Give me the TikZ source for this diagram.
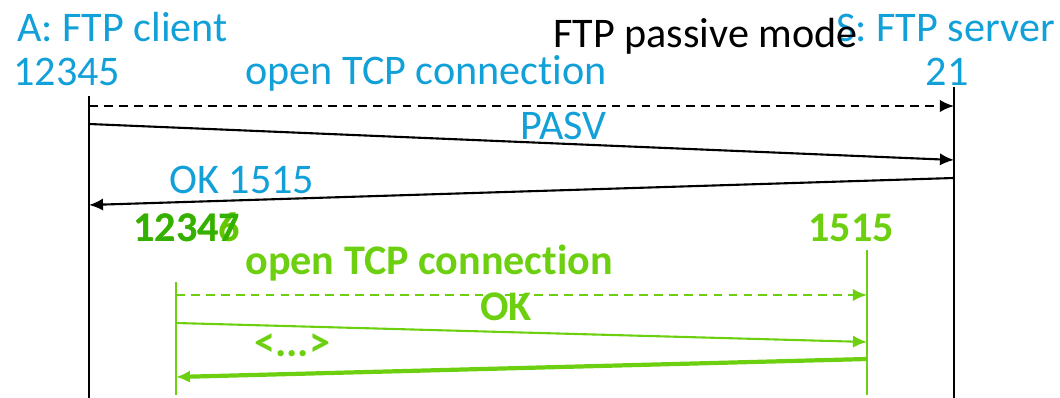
\documentclass[tikz,border=0pt]{standalone}
\usepackage{fontspec}
\setmainfont[Ligatures={NoCommon}]{Carlito}
\usetikzlibrary{arrows.meta}
\definecolor{ftpblue}{RGB}{18,160,216}
\definecolor{ftpgreen}{RGB}{108,208,16}
\definecolor{ftplime}{RGB}{100,200,0}
\definecolor{ftpdark}{RGB}{52,176,0}

\begin{document}
\begin{tikzpicture}[x=0.02cm, y=-0.02cm,
    lbl/.style={inner sep=0, font=\fontsize{24}{28}\selectfont},
    blbl/.style={lbl, text=ftpblue},
    glbl/.style={lbl, text=ftpgreen, font=\fontsize{24}{28}\selectfont\bfseries},
    life/.style={line width=1.1pt},
    glife/.style={line width=1.1pt, ftpgreen},
    msg/.style={line width=1.2pt, -{Latex[length=8pt,width=7pt]}},
    dmsg/.style={msg, dash pattern=on 5pt off 3.5pt},
    gmsg/.style={msg, ftpgreen},
    dgmsg/.style={dmsg, ftpgreen},
    tgmsg/.style={gmsg, line width=2.4pt}]
    \useasboundingbox (0,0) rectangle (1060,398);

    % lifelines
    \coordinate (Atop) at (89,96);   \coordinate (Abot) at (89,398);
    \coordinate (Stop) at (954,87);  \coordinate (Sbot) at (954,398);
    \coordinate (gAtop) at (176,282); \coordinate (gAbot) at (176,395);
    \coordinate (gStop) at (867,250); \coordinate (gSbot) at (867,395);
    \draw[life] (Atop) -- (Abot);
    \draw[life] (Stop) -- (Sbot);
    \draw[glife] (gAtop) -- (gAbot);
    \draw[glife] (gStop) -- (gSbot);

    % message ends
    \coordinate (a1) at (89,106);  \coordinate (s1) at (954,106);
    \coordinate (a2) at (89,124);  \coordinate (s2) at (954,160);
    \coordinate (s3) at (954,178); \coordinate (a3) at (89,205);
    \coordinate (g1) at (176,295); \coordinate (h1) at (867,295);
    \coordinate (g2) at (176,323); \coordinate (h2) at (867,342);
    \coordinate (h3) at (867,359); \coordinate (g3) at (176,377);

    \foreach \from/\to/\sty in {a1/s1/dmsg, a2/s2/msg, s3/a3/msg,
      g1/h1/dgmsg, g2/h2/gmsg, h3/g3/tgmsg}
      \draw[\sty] (\from) -- (\to);

    % labels
    \node[blbl, anchor=base east] (server) at (1055,42) {S: FTP server};
    \node[blbl, anchor=base west] (client) at (17,42) {A: FTP client};
    \node[lbl, anchor=base west] (title) at (553,48) {FTP passive mode};
    \node[blbl, anchor=base west] (cport) at (13,86) {12345};
    \node[blbl, anchor=base east] (sport) at (969,86) {21};
    \node[blbl, anchor=base west] (open1) at (245,85) {open TCP connection};
    \node[blbl, anchor=base west] (pasv) at (520,140) {PASV};
    \node[blbl, anchor=base west] (ok1) at (169,194) {OK 1515};
    \node[glbl, anchor=base west, text=ftplime] (gport6) at (133,242) {12346};
    \node[glbl, anchor=base west, text=ftpdark] (gport7) at (133,242) {12347};
    \node[glbl, anchor=base west] (dport) at (808,242) {1515};
    \node[glbl, anchor=base west] (open2) at (245,275) {open TCP connection};
    \node[glbl, anchor=base west] (ok2) at (480,320) {OK};
    \node[glbl, anchor=base west] (dots) at (254,356) {<...>};
\end{tikzpicture}
\end{document}
